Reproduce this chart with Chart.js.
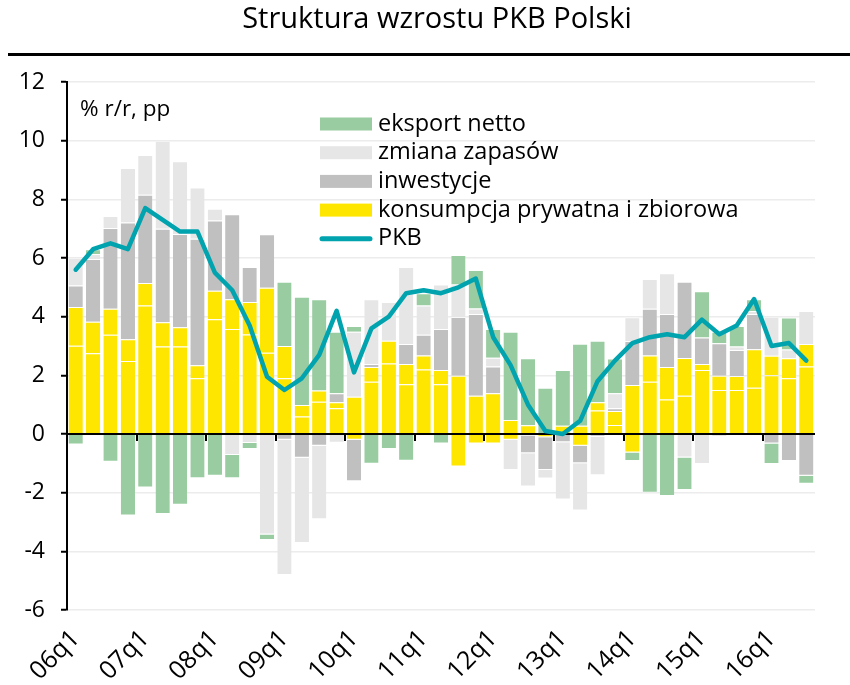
<!DOCTYPE html>
<html><head><meta charset="utf-8">
<script src="https://cdn.jsdelivr.net/npm/chart.js@4.4.1/dist/chart.umd.min.js"></script>
<style>html,body{margin:0;padding:0;background:#fff;}canvas{display:block;}</style>
</head><body>
<canvas id="c" width="850" height="685"></canvas>
<script>
const TITLE = 'Struktura wzrostu PKB Polski';
const UNIT = '% r/r, pp';
const quarters = ['06q1','06q2','06q3','06q4','07q1','07q2','07q3','07q4','08q1','08q2','08q3','08q4',
  '09q1','09q2','09q3','09q4','10q1','10q2','10q3','10q4','11q1','11q2','11q3','11q4',
  '12q1','12q2','12q3','12q4','13q1','13q2','13q3','13q4','14q1','14q2','14q3','14q4',
  '15q1','15q2','15q3','15q4','16q1','16q2','16q3'];
const shownLabels = ['06q1','07q1','08q1','09q1','10q1','11q1','12q1','13q1','14q1','15q1','16q1'];
const yTicks = [12,10,8,6,4,2,0,-2,-4,-6];

const konsPrywatna = [3.01,2.75,3.38,2.49,4.38,2.98,2.98,1.90,3.91,3.58,3.39,2.77,
  1.90,0.60,1.10,0.88,1.27,1.78,2.40,1.70,2.20,1.70,1.99,1.30,
  1.39,0.48,0.30,-0.11,0.28,0.28,0.80,0.31,1.67,1.78,1.18,1.30,
  2.18,1.50,1.50,1.58,2.00,1.90,2.30];
const konsZbiorowa = [1.32,1.08,0.89,0.74,0.77,0.83,0.66,0.44,0.97,1.01,1.11,2.22,
  1.10,0.39,0.38,0.20,-0.20,0.50,0.78,0.69,0.48,0.48,-1.11,-0.32,
  -0.32,-0.20,-0.05,0.00,0.00,-0.40,0.28,0.47,-0.63,0.90,1.10,1.29,
  0.21,0.49,0.48,1.31,0.67,0.68,0.77];
const inwestycje = [0.73,2.14,2.75,3.98,3.01,3.19,3.18,4.32,2.40,2.90,1.19,1.82,
  -0.20,-0.81,-0.40,0.31,-1.41,0.11,0.00,0.68,0.70,1.40,2.00,2.79,
  0.91,0.00,-0.61,-1.12,-0.28,-0.60,-0.09,0.10,1.50,1.59,1.81,2.60,
  0.90,1.10,0.88,1.20,-0.32,-0.92,-1.42];
const zapasy = [0.95,0.17,0.41,1.86,1.35,3.00,2.48,1.74,0.40,-0.72,-0.31,-3.43,
  -4.61,-2.91,-2.51,-0.30,2.22,2.20,1.32,2.62,1.00,1.52,1.11,0.19,
  0.30,-1.03,-1.13,-0.29,-1.95,-1.61,-1.32,0.51,0.81,1.01,1.39,-0.80,
  -1.02,-0.10,0.12,0.10,1.33,0.30,1.12];
const eksportNetto = [-0.36,0.16,-0.95,-2.78,-1.82,-2.73,-2.41,-1.51,-1.42,-0.79,-0.20,-0.18,
  2.19,3.69,3.11,2.10,0.19,-1.01,-0.51,-0.91,0.42,-0.32,1.00,1.31,
  0.98,3.01,2.28,1.58,1.90,2.80,2.10,1.18,-0.29,-2.00,-2.11,-1.11,
  1.58,0.40,0.70,0.40,-0.70,1.09,-0.28];
const pkb = [5.6,6.3,6.5,6.3,7.7,7.3,6.9,6.9,5.5,4.9,3.7,1.95,
  1.5,1.9,2.7,4.2,2.1,3.6,4.0,4.8,4.9,4.8,5.0,5.3,
  3.3,2.35,1.0,0.1,0.0,0.45,1.8,2.5,3.1,3.3,3.4,3.3,
  3.9,3.4,3.7,4.6,3.0,3.1,2.5];

const C_YELLOW = '#FFE600', C_INV = '#C0C0C0', C_ZAP = '#E6E6E6', C_EKS = '#99CCA0', C_PKB = '#00A3AE';
const FONT = '"Open Sans", "Noto Sans", sans-serif';
const legendItems = [
  {label:'eksport netto', color:C_EKS, type:'box'},
  {label:'zmiana zapasów', color:C_ZAP, type:'box'},
  {label:'inwestycje', color:C_INV, type:'box'},
  {label:'konsumpcja prywatna i zbiorowa', color:C_YELLOW, type:'box'},
  {label:'PKB', color:C_PKB, type:'line'}
];

const barCommon = {type:'bar', stack:'s', order:1, barPercentage:0.82, categoryPercentage:1,
  borderWidth:{top:1,bottom:1,left:0,right:0}, borderSkipped:'start', borderColor:'rgba(255,255,255,0.35)'};

const overlay = {
  id:'overlay',
  beforeDraw(chart){
    const ctx = chart.ctx;
    ctx.save();
    ctx.fillStyle='#fff'; ctx.fillRect(0,0,chart.width,chart.height);
    ctx.fillStyle='#000';
    ctx.font = '29px ' + FONT;
    ctx.textAlign='center'; ctx.textBaseline='middle';
    ctx.fillText(TITLE, 437, 20);
    ctx.fillRect(8, 53, 842, 3);
    ctx.restore();
  },
  beforeDatasetDraw(chart, args){
    if (args.meta.type !== 'line') return;
    const ctx = chart.ctx, xs = chart.scales.x, ys = chart.scales.y;
    const y0 = ys.getPixelForValue(0);
    ctx.save();
    ctx.strokeStyle='#000'; ctx.lineWidth=2;
    ctx.beginPath(); ctx.moveTo(xs.left, y0); ctx.lineTo(xs.right, y0); ctx.stroke();
    for (let i=4;i<quarters.length;i+=4){
      const px = Math.round((xs.getPixelForValue(i-1)+xs.getPixelForValue(i))/2);
      ctx.beginPath(); ctx.moveTo(px, y0); ctx.lineTo(px, y0+7); ctx.stroke();
    }
    ctx.restore();
  },
  afterDraw(chart){
    const ctx = chart.ctx;
    ctx.save();
    ctx.fillStyle='#000';
    ctx.font = '22.5px ' + FONT;
    ctx.textAlign='left'; ctx.textBaseline='middle';
    ctx.fillText(UNIT, 80, 110);
    ctx.font = '23.5px ' + FONT;
    legendItems.forEach((it, i) => {
      const cy = 124 + i*28.7;
      if (it.type==='box'){
        ctx.fillStyle = it.color; ctx.fillRect(320, cy-6.5, 52, 13);
      } else {
        ctx.strokeStyle = it.color; ctx.lineWidth = 5; ctx.lineCap='round';
        ctx.beginPath(); ctx.moveTo(322, cy); ctx.lineTo(370, cy); ctx.stroke();
      }
      ctx.fillStyle='#000';
      ctx.fillText(it.label, 378, cy);
    });
    ctx.restore();
  }
};

new Chart(document.getElementById('c'), {
  data:{
    labels: quarters,
    datasets:[
      {...barCommon, label:'konsumpcja prywatna', data:konsPrywatna, backgroundColor:C_YELLOW},
      {...barCommon, label:'konsumpcja zbiorowa', data:konsZbiorowa, backgroundColor:C_YELLOW},
      {...barCommon, label:'inwestycje', data:inwestycje, backgroundColor:C_INV},
      {...barCommon, label:'zmiana zapasów', data:zapasy, backgroundColor:C_ZAP},
      {...barCommon, label:'eksport netto', data:eksportNetto, backgroundColor:C_EKS},
      {type:'line', label:'PKB', data:pkb, stack:'line', order:0, borderColor:C_PKB, borderWidth:4.5,
       pointRadius:0, tension:0, borderCapStyle:'round', borderJoinStyle:'round', fill:false}
    ]
  },
  options:{
    responsive:false, animation:false, devicePixelRatio:1,
    layout:{padding:{top:82, right:35, bottom:0, left:0}},
    plugins:{legend:{display:false}, title:{display:false}, tooltip:{enabled:false}},
    scales:{
      x:{
        offset:true, stacked:true,
        grid:{display:false, drawTicks:false},
        border:{display:false},
        ticks:{autoSkip:false, maxRotation:45, minRotation:45, color:'#000', padding:14,
          font:{size:25, family:FONT},
          callback:(v,i)=> shownLabels.includes(quarters[i]) ? quarters[i] : ''},
        afterFit:(s)=>{ s.height = 75; }
      },
      y:{
        stacked:true, min:-6, max:12,
        afterBuildTicks:(s)=>{ s.ticks = yTicks.map(v=>({value:v})); },
        ticks:{color:'#000', padding:16, font:{size:23, family:FONT}},
        grid:{color:'#ececec', lineWidth:1.5, tickColor:'#000', tickLength:6, tickWidth:2},
        border:{color:'#000', width:2},
        afterFit:(s)=>{ s.width = 67; }
      }
    }
  },
  plugins:[overlay]
});
</script>
</body></html>
